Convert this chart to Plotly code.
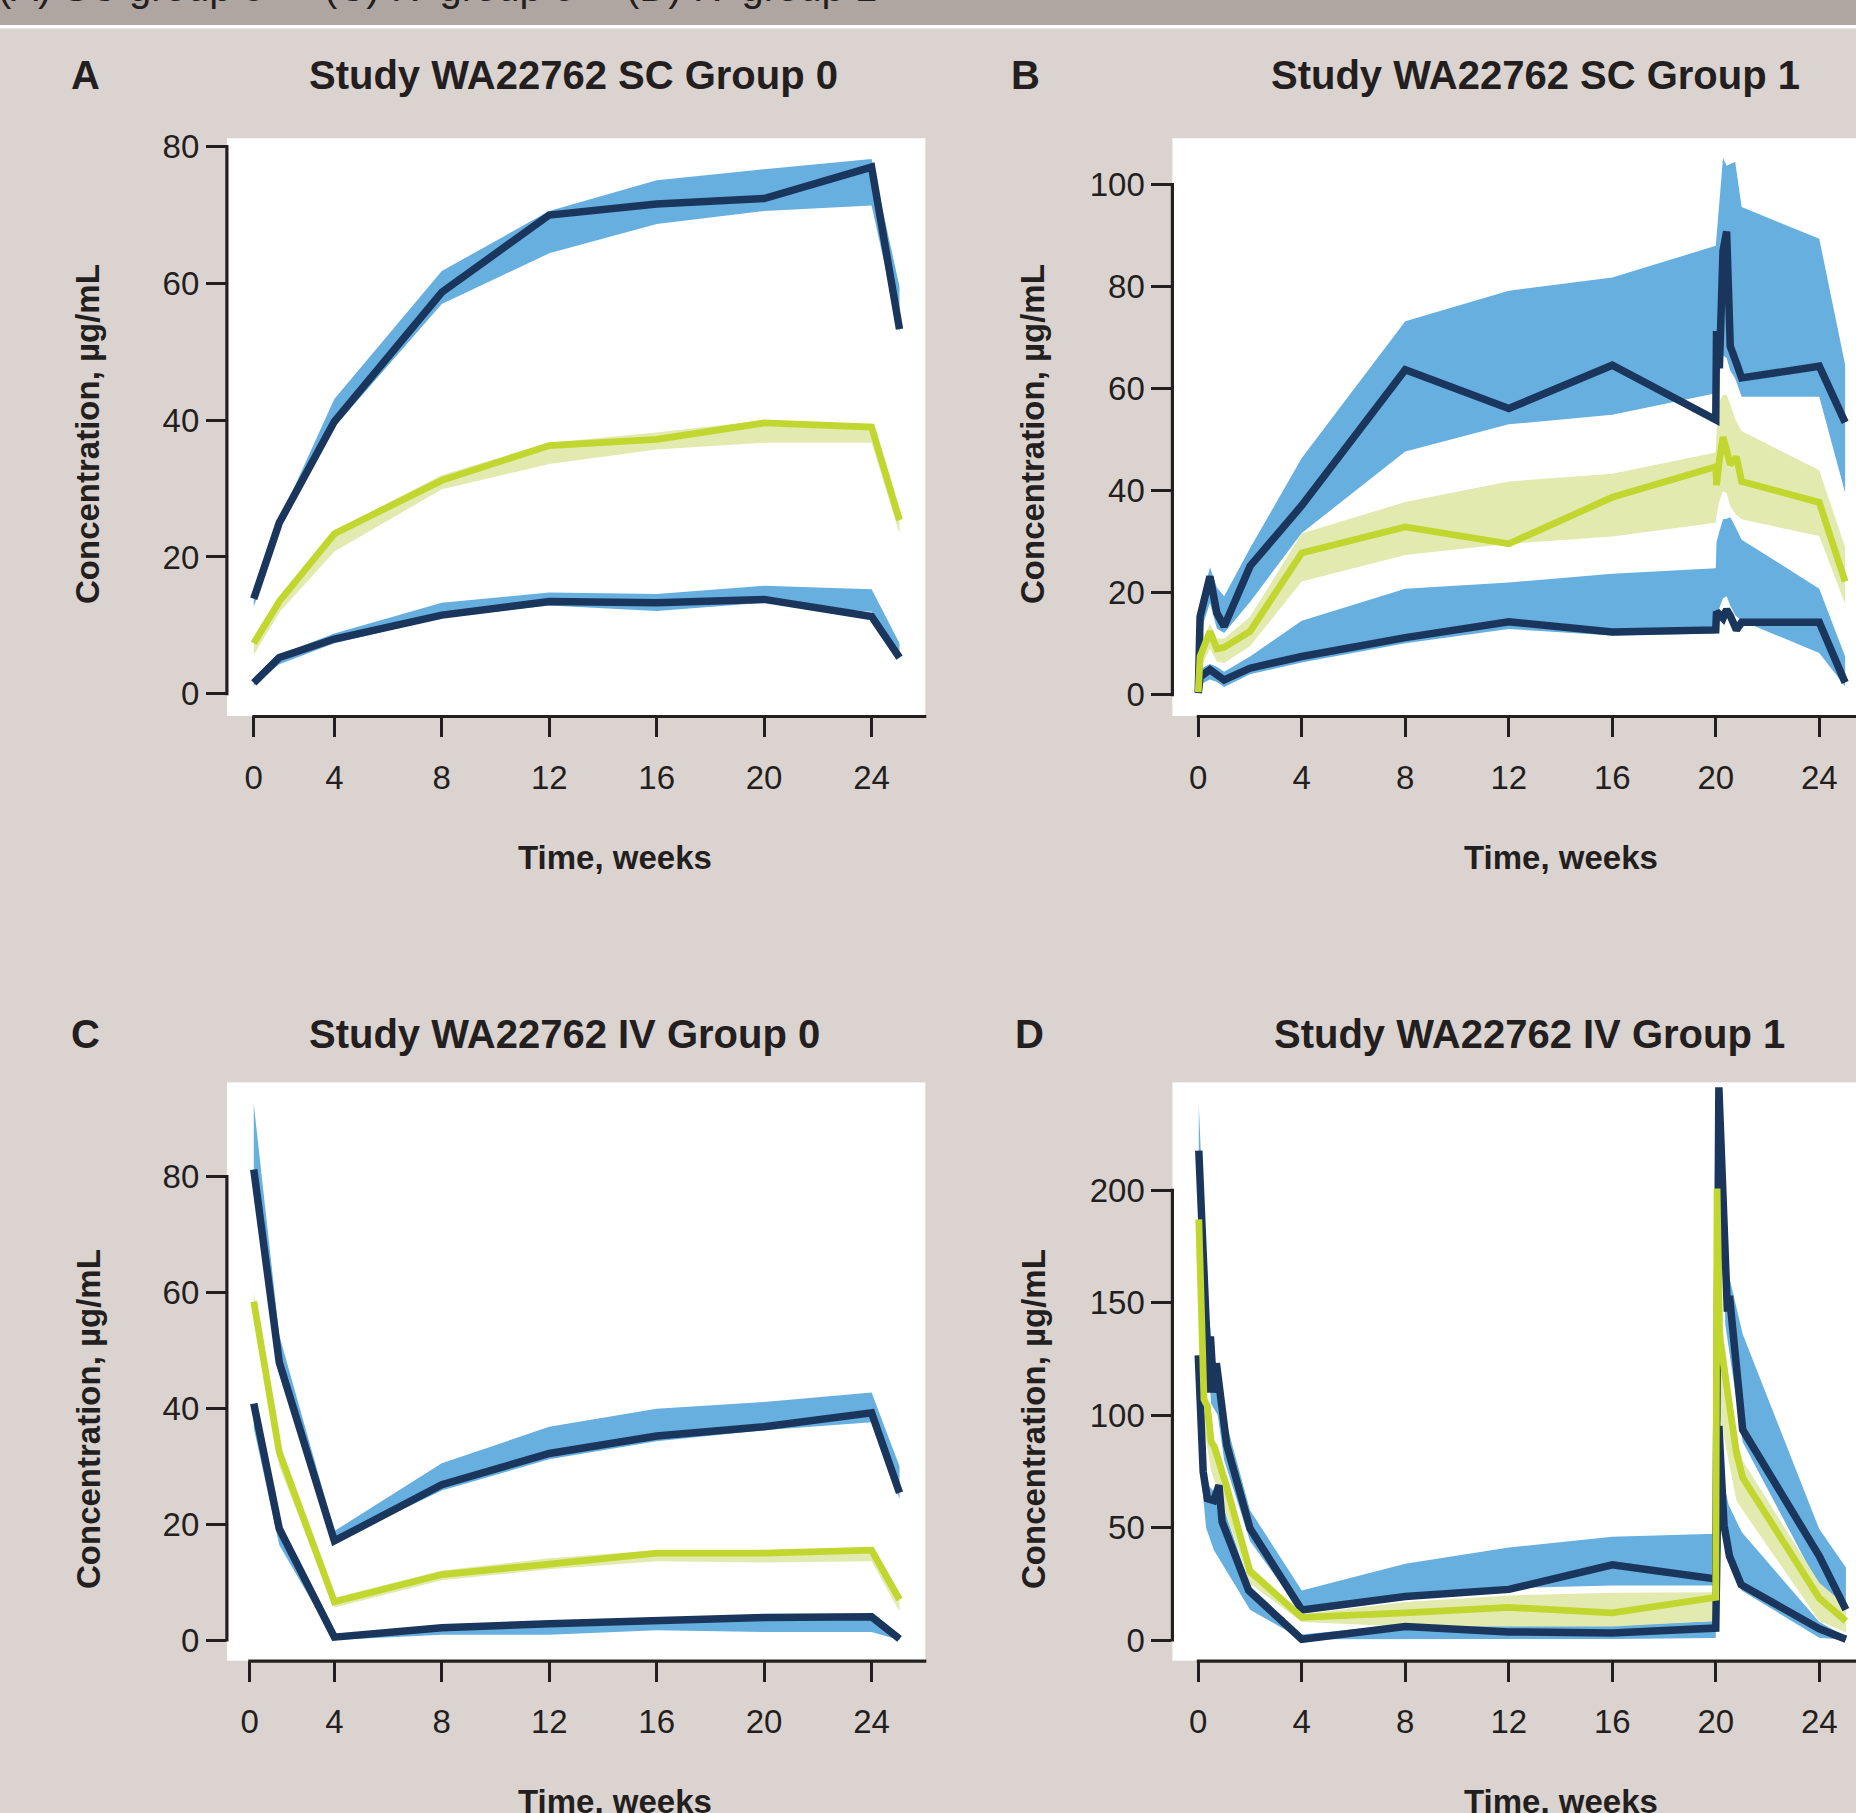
import plotly.graph_objects as go

W, H = 1856, 1813
BG = "#dad3cf"
BAND_TOP = "#b0a6a1"
NAVY = "#1b365d"
BLUE = "#66afdf"
LIME = "#c1d62f"
LIME_BAND = "#e2eab0"
INK = "#231f20"
FONT = "Liberation Sans, Arial, Helvetica, sans-serif"

# ---------------- Panel A : SC Group 0 ----------------
A_t = [1, 1.95, 4, 8, 12, 16, 20, 24, 25.04]
A_hi = [13.9, 25.0, 39.8, 58.7, 70.0, 71.6, 72.4, 77.0, 53.3]
A_hi_up = [14.4, 25.4, 43.1, 61.8, 70.6, 75.1, 76.7, 78.2, 59.5]
A_hi_lo = [12.7, 24.2, 39.0, 57.0, 64.4, 68.7, 70.6, 71.4, 52.9]
A_mid = [7.4, 13.5, 23.4, 31.2, 36.3, 37.2, 39.6, 39.0, 25.4]
A_mid_up = [8.2, 13.9, 23.8, 32.0, 36.7, 38.2, 40.0, 39.4, 25.8]
A_mid_lo = [5.7, 11.9, 20.8, 29.9, 33.6, 35.7, 36.7, 36.7, 23.4]
A_lo = [1.6, 5.3, 8.0, 11.5, 13.5, 13.3, 13.8, 11.3, 5.3]
A_lo_up = [2.1, 5.7, 8.8, 13.3, 14.8, 14.6, 15.8, 15.3, 7.4]
A_lo_lo = [1.2, 4.3, 7.4, 11.1, 12.9, 12.1, 13.3, 12.0, 6.2]

# ---------------- Panel B : SC Group 1 ----------------
B_t = [0, 0.07, 0.45, 0.72, 1, 2, 4, 8, 12, 16, 20, 20.03, 20.14, 20.28, 20.42, 20.56, 20.8, 21, 24, 25]
B_hi = [0.5, 15.3, 23.2, 16.0, 13.4, 25.2, 37.1, 63.7, 56.1, 64.6, 53.9, 71.3, 64.0, 87.0, 90.8, 68.3, 65.0, 62.1, 64.4, 53.4]
B_mid = [0.5, 7.5, 12.4, 9.0, 9.3, 12.4, 27.8, 32.9, 29.6, 38.7, 44.7, 41.1, 46.0, 50.5, 48.0, 45.1, 46.6, 41.8, 37.7, 22.2]
B_lo = [0.3, 3.5, 4.9, 4.0, 2.9, 5.2, 7.5, 11.2, 14.3, 12.3, 12.7, 16.3, 15.6, 15.0, 16.7, 15.5, 12.7, 14.2, 14.2, 2.4]
B_band_t = [0, 0.07, 0.45, 0.72, 1, 2, 4, 8, 12, 16, 20, 20.03, 20.14, 20.28, 20.42, 20.56, 20.75, 21, 24, 25]
B_hi_up = [0.5, 17.0, 25.0, 21.0, 19.3, 28.7, 46.4, 73.2, 79.2, 81.8, 88.0, 90.0, 97.0, 105.2, 103.7, 104.0, 104.5, 95.6, 89.4, 64.7]
B_hi_lo = [0.3, 12.0, 18.0, 13.0, 12.1, 18.2, 31.7, 47.7, 53.0, 54.9, 59.1, 62.0, 64.5, 66.5, 66.0, 63.5, 62.0, 58.4, 58.4, 39.6]
B_mid_up = [0.5, 9.0, 14.0, 11.0, 11.0, 15.3, 31.6, 37.8, 41.8, 43.3, 47.5, 52.0, 57.6, 58.8, 58.8, 57.0, 54.0, 51.7, 44.0, 28.9]
B_mid_lo = [0.3, 5.0, 9.0, 6.5, 6.2, 9.5, 22.2, 27.4, 29.6, 31.0, 33.7, 35.0, 38.0, 39.9, 39.5, 37.0, 35.5, 34.4, 31.1, 17.8]
B_lo_up = [0.3, 5.0, 6.0, 5.5, 4.5, 7.5, 14.5, 20.8, 22.0, 23.7, 24.8, 30.0, 32.0, 34.4, 34.5, 34.8, 33.0, 30.4, 20.8, 7.5]
B_lo_lo = [0.2, 2.0, 3.0, 2.5, 1.5, 4.0, 6.3, 10.1, 12.9, 11.6, 12.0, 13.0, 17.0, 18.9, 19.3, 17.5, 15.6, 14.5, 8.2, 1.6]

# ---------------- Panel C : IV Group 0 ----------------
C_t = [1, 1.95, 4, 8, 12, 16, 20, 24, 25.04]
C_hi = [81.2, 47.9, 17.1, 26.8, 32.2, 35.2, 36.8, 39.2, 25.4]
C_hi_up = [92.5, 52.6, 18.8, 30.5, 36.8, 39.9, 41.1, 42.7, 30.0]
C_hi_lo = [79.8, 46.0, 16.9, 25.8, 31.2, 34.3, 36.2, 37.6, 24.4]
C_mid = [58.4, 32.4, 6.6, 11.3, 13.1, 15.0, 15.0, 15.5, 7.0]
C_mid_up = [60.1, 33.3, 7.3, 12.0, 14.1, 15.5, 15.5, 16.0, 7.7]
C_mid_lo = [57.3, 30.0, 5.6, 10.3, 12.2, 13.6, 13.4, 13.6, 4.9]
C_lo = [40.8, 19.2, 0.5, 2.1, 2.8, 3.3, 3.9, 4.0, 0.2]
C_lo_up = [40.4, 19.7, 0.9, 2.1, 2.6, 3.3, 3.6, 3.6, 0.5]
C_lo_lo = [36.6, 16.4, 0.0, 0.9, 0.9, 1.7, 1.4, 1.4, 0.0]

# ---------------- Panel D : IV Group 1 ----------------
D_hi_t = [0.02, 0.35, 0.42, 0.47, 0.6, 0.7, 0.92, 1.1, 2, 4, 8, 12, 16, 20, 20.12, 20.37, 20.45, 20.53, 20.85, 21.04, 24, 25.03]
D_hi = [217.6, 137.0, 110.0, 135.0, 110.0, 123.0, 100.3, 86.7, 49.6, 13.3, 19.3, 22.5, 33.4, 27.1, 245.7, 150.0, 146.0, 153.0, 117.3, 93.5, 37.3, 13.5]
D_mid_t = [0.02, 0.22, 0.35, 0.5, 0.62, 0.8, 1.1, 2, 4, 8, 12, 16, 20, 20.05, 20.15, 20.8, 21.04, 24, 25.03]
D_mid = [187.0, 107.0, 104.0, 88.0, 86.0, 80.0, 68.0, 30.5, 10.1, 12.1, 14.5, 12.1, 19.0, 200.7, 134.3, 83.3, 72.2, 18.6, 8.4]
D_lo_t = [0.0, 0.19, 0.35, 0.6, 0.8, 0.92, 1.95, 4, 8, 12, 16, 20, 20.12, 20.32, 20.53, 20.98, 24, 25.03]
D_lo = [126.6, 74.8, 62.9, 62.0, 68.8, 52.6, 22.0, 0.3, 6.0, 3.6, 3.1, 5.3, 95.2, 51.0, 37.3, 24.6, 5.0, 0.3]
D_hi_band_t = [0.02, 0.35, 0.5, 0.75, 1, 2, 4, 8, 12, 16, 20, 20.12, 20.37, 20.55, 21.04, 24, 25.03]
D_hi_up = [238.0, 150.0, 135.0, 118.0, 100.0, 57.7, 22.0, 33.9, 41.1, 45.9, 47.2, 245.7, 176.8, 160.0, 136.0, 49.3, 32.2]
D_hi_lo = [200.0, 125.0, 105.0, 100.0, 80.0, 44.0, 12.1, 18.1, 23.0, 24.2, 24.2, 236.0, 140.0, 125.0, 88.0, 23.7, 16.0]
D_mid_band_t = [0.02, 0.22, 0.5, 1.1, 2, 4, 8, 12, 16, 20, 20.05, 20.15, 20.8, 21.04, 24, 25.03]
D_mid_up = [190.0, 112.0, 92.0, 72.0, 33.0, 11.5, 16.9, 19.8, 21.0, 21.2, 203.0, 150.0, 90.0, 79.8, 25.4, 15.2]
D_mid_lo = [180.0, 95.0, 75.0, 55.0, 25.0, 8.0, 6.0, 6.0, 6.0, 8.4, 110.0, 100.0, 62.0, 57.7, 8.4, 3.3]
D_lo_band_t = [0.0, 0.1, 0.3, 0.6, 1, 2, 4, 8, 12, 16, 20, 20.05, 20.3, 20.5, 21, 24, 25.03]
D_lo_up = [128.0, 95.0, 70.0, 66.0, 58.0, 24.0, 2.5, 7.0, 6.5, 6.5, 8.4, 100.0, 70.0, 60.0, 48.0, 8.0, 1.5]
D_lo_lo = [120.0, 75.0, 50.0, 40.0, 32.0, 13.5, 0.3, 0.3, 0.5, 0.5, 0.9, 90.0, 50.0, 35.0, 22.0, 1.0, 0.0]

# ---------------- tick labels ----------------
X_TICK_TEXT = ["0", "4", "8", "12", "16", "20", "24"]
A_xticks = [1, 4, 8, 12, 16, 20, 24]
C_xticks = [0.85, 4, 8, 12, 16, 20, 24]
BD_xticks = [0, 4, 8, 12, 16, 20, 24]
A_yticks = [0, 20, 40, 60, 80]
B_yticks = [0, 20, 40, 60, 80, 100]
C_yticks = [0, 20, 40, 60, 80]
D_yticks = [0, 50, 100, 150, 200]

TITLES = ["Study WA22762 SC Group 0", "Study WA22762 SC Group 1",
          "Study WA22762 IV Group 0", "Study WA22762 IV Group 1"]
LETTERS = ["A", "B", "C", "D"]
Y_TITLE = "Concentration, µg/mL"
X_TITLE = "Time, weeks"
CAPTION = ["(A) SC group 0", "(C) IV group 0", "(D) IV group 1"]

# ---------------- layout geometry (pixels) ----------------
LEFT_X = (226.9, 925.3)
RIGHT_X = (1172.4, 1856.0)
TOP_Y = (138.2, 716.0)
BOT_Y = (1082.4, 1660.7)

panels = [
    dict(n="", xpx=LEFT_X, ypx=TOP_Y, xr=[0, 26], yr=[-3.25, 81.23], xt=A_xticks, yt=A_yticks),
    dict(n="2", xpx=RIGHT_X, ypx=TOP_Y, xr=[-1, 25.42], yr=[-4.17, 109.1], xt=BD_xticks, yt=B_yticks),
    dict(n="3", xpx=LEFT_X, ypx=BOT_Y, xr=[0, 26], yr=[-3.57, 96.24], xt=C_xticks, yt=C_yticks),
    dict(n="4", xpx=RIGHT_X, ypx=BOT_Y, xr=[-1, 25.42], yr=[-9.2, 247.9], xt=BD_xticks, yt=D_yticks),
]

NAVY_W = 7.5
LIME_W = 6.8

fig = go.Figure()


def band(t, up, lo, color, n):
    fig.add_trace(go.Scatter(
        x=list(t) + list(t)[::-1], y=list(up) + list(lo)[::-1],
        fill="toself", fillcolor=color, mode="lines", line=dict(width=0),
        xaxis="x" + n, yaxis="y" + n, hoverinfo="skip", showlegend=False))


def curve(t, v, color, width, n):
    fig.add_trace(go.Scatter(
        x=t, y=v, mode="lines", line=dict(color=color, width=width),
        xaxis="x" + n, yaxis="y" + n, hoverinfo="skip", showlegend=False))


# Panel A
band(A_t, A_hi_up, A_hi_lo, BLUE, "")
band(A_t, A_lo_up, A_lo_lo, BLUE, "")
band(A_t, A_mid_up, A_mid_lo, LIME_BAND, "")
curve(A_t, A_hi, NAVY, NAVY_W, "")
curve(A_t, A_lo, NAVY, NAVY_W, "")
curve(A_t, A_mid, LIME, LIME_W, "")
# Panel B
band(B_band_t, B_hi_up, B_hi_lo, BLUE, "2")
band(B_band_t, B_lo_up, B_lo_lo, BLUE, "2")
band(B_band_t, B_mid_up, B_mid_lo, LIME_BAND, "2")
curve(B_t, B_hi, NAVY, NAVY_W, "2")
curve(B_t, B_lo, NAVY, NAVY_W, "2")
curve(B_t, B_mid, LIME, LIME_W, "2")
# Panel C
band(C_t, C_hi_up, C_hi_lo, BLUE, "3")
band(C_t, C_lo_up, C_lo_lo, BLUE, "3")
band(C_t, C_mid_up, C_mid_lo, LIME_BAND, "3")
curve(C_t, C_hi, NAVY, NAVY_W, "3")
curve(C_t, C_lo, NAVY, NAVY_W, "3")
curve(C_t, C_mid, LIME, LIME_W, "3")
# Panel D
band(D_hi_band_t, D_hi_up, D_hi_lo, BLUE, "4")
band(D_lo_band_t, D_lo_up, D_lo_lo, BLUE, "4")
band(D_mid_band_t, D_mid_up, D_mid_lo, LIME_BAND, "4")
curve(D_hi_t, D_hi, NAVY, NAVY_W, "4")
curve(D_lo_t, D_lo, NAVY, NAVY_W, "4")
curve(D_mid_t, D_mid, LIME, LIME_W, "4")

layout = dict(
    width=W, height=H, margin=dict(l=0, r=0, t=0, b=0, pad=0, autoexpand=False),
    paper_bgcolor=BG, plot_bgcolor="white", showlegend=False,
    font=dict(family=FONT, color=INK),
)
shapes = []
annotations = []


def xpx(v, p):
    return p["xpx"][0] + (v - p["xr"][0]) / (p["xr"][1] - p["xr"][0]) * (p["xpx"][1] - p["xpx"][0])


def ypx(v, p):
    return p["ypx"][1] - (v - p["yr"][0]) / (p["yr"][1] - p["yr"][0]) * (p["ypx"][1] - p["ypx"][0])


for p in panels:
    n = p["n"]
    layout["xaxis" + n] = dict(
        domain=[p["xpx"][0] / W, p["xpx"][1] / W], range=p["xr"], anchor="y" + n,
        tickvals=p["xt"], ticktext=X_TICK_TEXT, ticks="outside", ticklen=20, tickwidth=3,
        tickcolor=INK, showline=False, showgrid=False, zeroline=False, automargin=False,
        tickfont=dict(family=FONT, size=33, color=INK), ticklabelstandoff=12)
    layout["yaxis" + n] = dict(
        domain=[1 - p["ypx"][1] / H, 1 - p["ypx"][0] / H], range=p["yr"], anchor="x" + n,
        tickvals=p["yt"], ticks="outside", ticklen=20, tickwidth=3,
        tickcolor=INK, showline=False, showgrid=False, zeroline=False, automargin=False,
        tickfont=dict(family=FONT, size=33, color=INK), ticklabelstandoff=0)
    # R-style axis lines: y from first to last tick, x from first tick to plot edge
    y0 = ypx(p["yt"][0], p)
    y1 = ypx(p["yt"][-1], p)
    xl = p["xpx"][0]
    shapes.append(dict(type="line", xref="paper", yref="paper",
                       x0=xl / W, x1=xl / W, y0=1 - (y0 + 1.5) / H, y1=1 - (y1 - 1.5) / H,
                       line=dict(color=INK, width=3.2)))
    xb0 = xpx(p["xt"][0], p)
    yb = p["ypx"][1] + 0.5
    shapes.append(dict(type="line", xref="paper", yref="paper",
                       x0=(xb0 - 1.5) / W, x1=min(p["xpx"][1] + 1, W + 5) / W, y0=1 - yb / H, y1=1 - yb / H,
                       line=dict(color=INK, width=3.2)))

# header band
shapes.append(dict(type="rect", xref="paper", yref="paper", x0=0, x1=1, y0=1 - 25 / H, y1=1,
                   fillcolor=BAND_TOP, line=dict(width=0), layer="below"))
shapes.append(dict(type="rect", xref="paper", yref="paper", x0=0, x1=1, y0=1 - 28.5 / H, y1=1 - 25 / H,
                   fillcolor="white", line=dict(width=0), layer="below"))


def ann(text, x, y, size, bold=True, angle=0, anchor="center"):
    annotations.append(dict(
        text=("<b>%s</b>" % text) if bold else text, x=x / W, y=1 - y / H, xref="paper", yref="paper",
        showarrow=False, textangle=angle, xanchor=anchor, yanchor="middle",
        font=dict(family=FONT, size=size, color=INK)))


letter_pos = [(85, 75), (1025, 75), (85, 1034), (1029, 1034)]
title_pos = [(573, 75), (1535, 75), (564, 1034), (1529, 1034)]
ytitle_pos = [(88, 434), (1033, 434), (88, 1419), (1033, 1419)]
xtitle_pos = [(615, 857), (1561, 857), (615, 1801), (1561, 1801)]
for i in range(4):
    ann(LETTERS[i], *letter_pos[i], 40)
    ann(TITLES[i], *title_pos[i], 40)
    ann(Y_TITLE, *ytitle_pos[i], 33, angle=-90)
    ann(X_TITLE, *xtitle_pos[i], 33)

cap_x = [-4, 322, 624]
for i, c in enumerate(CAPTION):
    ann(c, cap_x[i], -13, 40, bold=False, anchor="left")

layout["shapes"] = shapes
layout["annotations"] = annotations
fig.update_layout(**layout)
fig.write_html("out.html")
